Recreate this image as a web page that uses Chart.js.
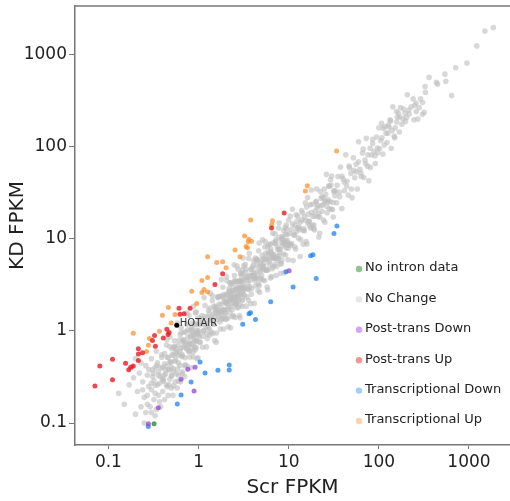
<!DOCTYPE html>
<html>
<head>
<meta charset="utf-8">
<script src="https://cdn.jsdelivr.net/npm/chart.js@4.4.0/dist/chart.umd.min.js"></script>
<style>
  html, body { margin: 0; padding: 0; background: #fff; }
</style>
</head>
<body>
<canvas id="fpkmChart" width="510" height="501"></canvas>
<script>
// axis ticks (decades only)
const tickValues = [0.1, 1, 10, 100, 1000];

// [Scr FPKM, KD FPKM] pairs
const noIntronData = [[0.321, 0.098]];

const postTransDown = [
  [10.1, 4.51], [0.759, 0.384], [0.915, 0.404], [0.64, 0.299], [0.891, 0.223],
  [0.358, 0.147], [0.278, 0.098]
];

const postTransUp = [
  [8.91, 19.1], [6.45, 13.1], [1.85, 4.17], [1.52, 3.19], [0.608, 1.76], [0.805, 1.76],
  [0.624, 1.52], [0.691, 1.54], [0.445, 1.04], [0.471, 0.963], [0.459, 0.916], [0.407, 0.839],
  [0.325, 0.894], [0.308, 0.788], [0.332, 0.682], [0.239, 0.581], [0.215, 0.562], [0.215, 0.642],
  [0.215, 0.478], [0.189, 0.417], [0.155, 0.446], [0.168, 0.38], [0.177, 0.403], [0.111, 0.492],
  [0.0803, 0.417], [0.111, 0.295], [0.0709, 0.252]
];

const transcriptionalDown = [
  [34.3, 13.8], [31.8, 11.4], [17.5, 6.53], [18.6, 6.73], [9.33, 4.38], [20.2, 3.7],
  [11.2, 2.99], [6.31, 2.07], [3.63, 1.54], [3.77, 1.57], [3.09, 1.18], [4.28, 1.33],
  [1.04, 0.46], [2.19, 0.427], [2.19, 0.377], [1.64, 0.375], [1.18, 0.349], [0.826, 0.279],
  [0.64, 0.202], [0.581, 0.161], [0.277, 0.0917]
];

const transcriptionalUp = [
  [34.0, 89.4], [16.1, 37.7], [15.3, 33.0], [6.61, 15.7], [6.48, 14.2], [3.79, 16.0],
  [3.24, 10.7], [3.61, 9.88], [3.87, 9.4], [3.56, 9.28], [3.36, 8.23], [3.49, 7.98],
  [2.54, 7.54], [2.88, 6.37], [1.85, 5.62], [1.59, 5.53], [1.26, 6.37], [2.02, 4.84],
  [1.26, 3.8], [1.09, 3.52], [0.841, 2.7], [1.15, 2.81], [1.09, 2.61], [1.26, 2.65],
  [0.955, 1.98], [0.463, 1.79], [0.397, 1.48], [0.549, 1.51], [0.496, 1.22], [0.189, 0.944],
  [0.285, 0.825], [0.368, 0.99], [0.278, 0.699], [0.265, 0.599]
];

const hotair = [[0.573, 1.15]];
const hotairName = 'HOTAIR';

const noChange = [
  // low tail
  [0.13, 0.21], [0.15, 0.16], [0.2, 0.125], [0.23, 0.15], [0.17, 0.26], [0.19, 0.31], [0.21, 0.22],
  [0.22, 0.35], [0.24, 0.28], [0.25, 0.19], [0.26, 0.42], [0.27, 0.33], [0.28, 0.25], [0.29, 0.15],
  [0.3, 0.5], [0.31, 0.38], [0.32, 0.29], [0.33, 0.21], [0.34, 0.6], [0.35, 0.45], [0.36, 0.33],
  [0.37, 0.17], [0.18, 0.4], [0.2, 0.5], [0.23, 0.45], [0.26, 0.13], [0.28, 0.38], [0.3, 0.23],
  [0.33, 0.12], [0.35, 0.26], [0.38, 0.4], [0.39, 0.55],
  [0.25, 0.1], [0.27, 0.16], [0.3, 0.13], [0.32, 0.18], [0.34, 0.14], [0.36, 0.2], [0.38, 0.15],
  [0.4, 0.22], [0.42, 0.18], [0.44, 0.26], [0.46, 0.2], [0.48, 0.3], [0.5, 0.24], [0.52, 0.2],
  [0.55, 0.28], [0.58, 0.24], [0.6, 0.33], [0.63, 0.28], [0.66, 0.36], [0.7, 0.32], [0.24, 0.23],
  [0.27, 0.2], [0.31, 0.32], [0.33, 0.4], [0.37, 0.27], [0.4, 0.3], [0.43, 0.34], [0.47, 0.26],
  [0.5, 0.4], [0.53, 0.36],
  // 0.3 - 1
  [0.4, 0.4], [0.41, 0.295], [0.42, 0.567], [0.43, 0.378], [0.44, 0.704], [0.45, 0.248], [0.46, 0.515],
  [0.47, 0.376], [0.48, 0.86], [0.49, 0.466], [0.5, 0.325], [0.51, 0.638], [0.52, 0.546], [0.53, 0.254],
  [0.54, 0.783], [0.55, 0.468], [0.56, 0.644], [0.57, 0.342], [0.58, 1.22], [0.59, 0.543], [0.6, 0.45],
  [0.61, 0.793], [0.62, 0.422], [0.63, 0.643], [0.64, 1.09], [0.65, 0.533], [0.66, 0.343], [0.67, 0.804],
  [0.68, 0.666], [0.69, 0.966], [0.7, 0.7], [0.71, 0.511], [0.72, 0.972], [0.73, 0.642], [0.74, 1.18],
  [0.75, 0.413], [0.76, 0.851], [0.77, 0.616], [0.78, 1.48], [0.79, 0.75], [0.8, 0.52], [0.81, 1.01],
  [0.82, 0.861], [0.83, 0.398], [0.84, 1.22], [0.85, 0.723], [0.86, 0.989], [0.87, 0.522], [0.88, 1.85],
  [0.89, 0.819], [0.9, 0.675], [0.91, 1.18], [0.92, 0.626], [0.93, 0.949], [0.94, 1.6], [0.95, 0.779],
  [0.96, 0.499], [0.97, 1.16], [0.98, 0.96], [0.99, 1.39],
  [0.415, 0.332], [0.445, 0.8], [0.475, 0.451], [0.505, 0.328], [0.535, 0.669], [0.565, 0.593],
  [0.595, 0.286], [0.625, 0.906], [0.655, 0.557], [0.685, 0.788], [0.715, 0.429], [0.745, 1.56],
  [0.775, 0.713], [0.805, 0.604], [0.835, 1.09], [0.865, 0.588], [0.895, 0.913], [0.925, 1.57],
  [0.955, 0.783], [0.985, 0.512],
  [0.3, 0.27], [0.315, 0.347], [0.33, 0.257], [0.345, 0.421], [0.36, 0.36], [0.375, 0.319],
  [0.39, 0.515], [0.405, 0.284], [0.42, 0.441], [0.435, 0.413], [0.45, 0.518], [0.465, 0.381],
  [0.48, 0.672], [0.495, 0.455], [0.51, 0.551], [0.525, 0.389], [0.54, 0.68], [0.555, 0.488],
  [0.57, 0.57], [0.585, 0.386], [0.6, 0.708], [0.62, 0.601], [0.64, 0.96], [0.66, 0.528],
  [0.68, 0.762], [0.7, 0.42], [0.72, 0.742], [0.74, 0.666], [0.76, 1.03], [0.78, 0.593],
  [0.8, 0.72], [0.82, 0.902], [0.84, 0.655], [0.86, 1.05], [0.88, 0.88], [0.9, 0.765],
  [0.92, 1.21], [0.94, 0.658], [0.96, 1.01], [0.98, 0.931],
  // 1 - 3.2
  [1.0, 1.0], [1.04, 0.749], [1.09, 1.47], [1.13, 0.994], [1.18, 1.89], [1.22, 0.671], [1.26, 1.41],
  [1.31, 1.05], [1.35, 2.57], [1.4, 1.33], [1.44, 0.936], [1.48, 1.85], [1.53, 1.61], [1.57, 0.754],
  [1.62, 2.35], [1.66, 1.41], [1.7, 1.96], [1.75, 1.05], [1.79, 3.6], [1.84, 1.69], [1.88, 1.41],
  [1.92, 2.5], [1.97, 1.34], [2.01, 2.05], [2.06, 3.5], [2.1, 1.72], [2.14, 1.11], [2.19, 2.63],
  [2.23, 2.19], [2.28, 3.19], [2.32, 2.32], [2.36, 1.7], [2.41, 3.25], [2.45, 2.16], [2.5, 4.0],
  [2.54, 1.4], [2.58, 2.89], [2.63, 2.1], [2.67, 5.07], [2.72, 2.58], [2.76, 1.79], [2.8, 3.5],
  [2.85, 2.99], [2.89, 1.39], [2.94, 4.26], [2.98, 2.53], [3.02, 3.47], [3.07, 1.84], [3.11, 6.2],
  [3.16, 2.91],
  [1.02, 0.867], [1.07, 1.23], [1.11, 0.666], [1.15, 2.3], [1.2, 1.1], [1.24, 0.93], [1.29, 1.68],
  [1.33, 0.904], [1.37, 1.4], [1.42, 2.41], [1.46, 1.2], [1.51, 0.785], [1.55, 1.86], [1.6, 1.57],
  [1.64, 2.3], [1.68, 1.68], [1.73, 1.25], [1.77, 2.39], [1.82, 1.6], [1.86, 2.98], [1.9, 1.05],
  [1.95, 2.18], [1.99, 1.59], [2.04, 3.88], [2.08, 1.98], [2.12, 1.38], [2.17, 2.71], [2.21, 2.32],
  [2.26, 1.08], [2.3, 3.34], [2.34, 1.99], [2.39, 2.75], [2.43, 1.46], [2.48, 5.21], [2.52, 2.32],
  [2.56, 1.92], [2.61, 3.39], [2.65, 1.8], [2.7, 2.75], [2.74, 4.66], [2.78, 2.28], [2.83, 1.47],
  [2.87, 3.44], [2.92, 2.86], [2.96, 4.14], [3.0, 3.0], [3.05, 2.2], [3.09, 4.17], [3.14, 2.76],
  [3.18, 5.09],
  [1.01, 0.909], [1.06, 1.17], [1.12, 0.874], [1.17, 1.43], [1.23, 1.23], [1.28, 1.09], [1.34, 1.77],
  [1.39, 0.973], [1.45, 1.52], [1.5, 1.43], [1.56, 1.79], [1.61, 1.32], [1.67, 2.34], [1.72, 1.58],
  [1.78, 1.92], [1.83, 1.35], [1.89, 2.38], [1.94, 1.71], [2.0, 2.0], [2.05, 1.35], [2.11, 2.49],
  [2.16, 2.1], [2.22, 3.33], [2.27, 1.82], [2.33, 2.61], [2.38, 1.43], [2.44, 2.51], [2.49, 2.24],
  [2.55, 3.44], [2.6, 1.98], [2.66, 2.39], [2.71, 2.98], [2.77, 2.16], [2.82, 3.44], [2.88, 2.88],
  [2.93, 2.49], [2.99, 3.95], [3.04, 2.13], [3.1, 3.26], [3.15, 2.99],
  [1.03, 0.762], [1.08, 1.36], [1.14, 1.0], [1.2, 1.2], [1.25, 0.825], [1.31, 1.55], [1.36, 1.32],
  [1.42, 2.13], [1.47, 1.18], [1.53, 1.71], [1.58, 0.948], [1.64, 1.69], [1.69, 1.52], [1.75, 2.36],
  [1.8, 1.37], [1.86, 1.67], [1.91, 2.1], [1.97, 1.54], [2.02, 2.46], [2.08, 2.08], [2.13, 1.81],
  [2.19, 2.89], [2.24, 1.57], [2.3, 2.42], [2.35, 2.23], [2.41, 2.77], [2.46, 2.02], [2.52, 3.53],
  [2.57, 2.36], [2.63, 2.84], [2.68, 1.98], [2.74, 3.45], [2.79, 2.46], [2.85, 2.85], [2.9, 1.91],
  [2.96, 3.49], [3.01, 2.92], [3.07, 4.61], [3.12, 2.5], [3.18, 3.56],
  // 3.2 - 10
  [3.2, 2.82], [3.3, 5.28], [3.38, 1.86], [3.47, 3.89], [3.56, 2.85], [3.65, 6.94], [3.74, 3.55],
  [3.84, 2.5], [3.94, 4.93], [4.04, 4.24], [4.14, 1.99], [4.25, 6.16], [4.36, 3.71], [4.47, 5.14],
  [4.59, 2.75], [4.7, 9.0], [4.83, 4.44], [4.95, 3.71], [5.08, 6.6], [5.21, 3.54], [5.34, 5.45],
  [5.48, 9.32], [5.62, 4.61], [5.77, 3.0], [5.92, 7.1], [6.07, 5.95], [6.23, 8.72], [6.39, 6.39],
  [6.55, 4.72], [6.72, 9.07], [6.9, 6.07], [7.07, 11.3], [7.26, 3.99], [7.44, 8.33], [7.64, 6.11],
  [7.83, 14.9], [8.04, 7.64], [8.24, 5.36], [8.46, 10.6], [8.68, 9.11], [8.9, 4.27], [9.13, 13.2],
  [9.37, 7.96], [9.61, 11.1], [9.86, 5.92],
  [3.25, 2.44], [3.34, 4.34], [3.43, 2.33], [3.52, 3.59], [3.6, 6.12], [3.7, 3.03], [3.79, 1.97],
  [3.89, 4.67], [3.99, 3.91], [4.09, 5.73], [4.2, 4.2], [4.3, 3.1], [4.42, 5.97], [4.53, 3.99],
  [4.64, 7.42], [4.77, 2.62], [4.89, 5.48], [5.01, 4.01], [5.14, 9.77], [5.28, 5.02], [5.41, 3.52],
  [5.55, 6.94], [5.7, 5.99], [5.84, 2.8], [6.0, 8.7], [6.15, 5.23], [6.31, 7.26], [6.47, 3.88],
  [6.64, 11.5], [6.81, 6.27], [6.98, 5.24], [7.17, 9.32], [7.35, 5.0], [7.54, 7.69], [7.73, 13.1],
  [7.93, 6.5], [8.14, 4.23], [8.35, 10.0], [8.57, 8.4], [8.79, 12.3], [9.02, 9.02], [9.25, 6.66],
  [9.49, 12.8], [9.74, 8.57], [9.98, 16.0],
  [3.28, 2.95], [3.45, 3.8], [3.62, 2.82], [3.8, 4.64], [3.98, 3.98], [4.18, 3.55], [4.38, 5.78],
  [4.6, 3.22], [4.82, 5.06], [5.06, 4.81], [5.3, 6.1], [5.56, 4.56], [5.83, 8.16], [6.12, 5.63],
  [6.42, 6.93], [6.73, 4.98], [7.06, 8.9], [7.4, 6.51], [7.76, 7.76], [8.14, 5.37], [8.54, 10.1],
  [8.95, 8.68], [9.39, 14.1], [9.85, 7.88],
  [3.36, 4.7], [3.53, 3.25], [3.71, 4.01], [3.89, 2.88], [4.08, 5.14], [4.28, 3.77], [4.49, 4.49],
  [4.71, 3.11], [4.94, 5.83], [5.18, 5.02], [5.43, 8.15], [5.7, 4.56], [5.97, 6.69], [6.27, 3.76],
  [6.57, 6.77], [6.89, 6.2], [7.23, 9.76], [7.58, 5.76], [7.95, 7.16], [8.34, 9.17], [8.75, 6.83],
  [9.17, 11.2], [9.62, 9.62], [10.1, 8.59],
  [3.32, 3.72], [3.58, 2.15], [3.85, 3.97], [4.13, 3.72], [4.44, 5.99], [4.77, 3.63], [5.12, 4.61],
  [5.5, 6.05], [5.9, 4.6], [6.34, 7.73], [6.8, 6.8], [7.3, 6.21], [7.85, 10.4], [8.42, 5.89],
  [9.05, 9.5], [9.7, 9.22],
  // 10 - 32
  [10.2, 11.4], [10.6, 8.48], [11.0, 20.9], [11.5, 10.9], [11.9, 7.74], [12.4, 15.5], [12.9, 13.5],
  [13.4, 6.43], [13.9, 20.2], [14.5, 12.3], [15.0, 17.3], [15.6, 9.36], [16.2, 28.0], [16.9, 15.5],
  [17.5, 13.1], [18.2, 23.7], [18.9, 12.9], [19.7, 20.1], [20.4, 34.7], [21.2, 17.4], [22.1, 11.5],
  [22.9, 27.5], [23.8, 23.3], [24.8, 34.7], [25.7, 25.7], [26.7, 19.2], [27.8, 37.5], [28.9, 25.4],
  [30.0, 48.0], [31.2, 17.2],
  [10.4, 17.7], [10.8, 8.86], [11.2, 5.82], [11.7, 14.0], [12.1, 11.9], [12.6, 17.6], [13.1, 13.1],
  [13.6, 9.79], [14.2, 19.2], [14.7, 12.9], [15.3, 24.5], [15.9, 8.75], [16.5, 18.5], [17.2, 13.8],
  [17.8, 33.8], [18.5, 17.6], [19.3, 12.5], [20.0, 25.0], [20.8, 21.8], [21.6, 10.4], [22.5, 32.6],
  [23.4, 19.9], [24.3, 27.9], [25.2, 15.1], [26.2, 50.0], [27.2, 25.0], [28.3, 21.2], [29.4, 38.2],
  [30.6, 20.8], [31.8, 32.4],
  [10.3, 8.76], [11.0, 14.5], [11.7, 8.19], [12.4, 13.0], [13.2, 12.5], [14.0, 16.1], [14.9, 12.2],
  [15.8, 22.1], [16.8, 15.5], [17.9, 19.3], [19.0, 14.1], [20.2, 25.5], [21.5, 18.9], [22.8, 22.8],
  [24.3, 16.0], [25.8, 30.4], [27.4, 26.6], [29.1, 43.7], [31.0, 24.8],
  [10.7, 12.6], [11.4, 11.1], [12.1, 18.2], [12.8, 10.2], [13.6, 15.2], [14.5, 8.7], [15.4, 15.9],
  [16.3, 14.7], [17.3, 23.4], [18.4, 14.0], [19.6, 17.6], [20.8, 22.9], [22.1, 17.2], [23.5, 28.7],
  [25.0, 25.0], [26.5, 22.5], [28.2, 37.2], [29.9, 20.9], [31.7, 33.3],
  // 32 - 100
  [33, 33], [34, 24.5], [35.2, 47.5], [36.4, 32], [37.6, 60.2], [38.8, 21.3], [40.1, 44.9],
  [41.5, 33.2], [42.9, 81.5], [44.3, 42.1], [45.8, 29.8], [47.3, 59.1], [48.9, 51.3], [50.5, 27.8],
  [52.2, 75.7], [54, 45.9], [55.8, 64.2], [57.6, 34.6], [59.5, 113], [61.5, 56.6], [63.6, 47.7],
  [65.7, 85.4], [67.9, 46.2], [70.2, 71.6], [72.5, 123], [74.9, 61.4], [77.4, 42.6], [80, 96],
  [82.7, 81], [85.5, 120], [88.3, 88.3], [91.3, 65.7], [94.3, 127], [97.5, 85.8], [100, 160],
  [32.5, 29.3], [34.5, 38], [36.7, 28.6], [39, 47.6], [41.4, 41.4], [44, 37.4], [46.7, 61.6],
  [49.6, 34.7], [52.7, 55.3], [56, 53.2], [59.5, 68.4], [63.2, 51.8], [67.1, 93.9], [71.3, 65.6],
  [75.7, 81.8], [80.4, 59.5], [85.4, 108], [90.7, 79.8], [96.4, 96.4],
  // 100 - 330
  [105, 116], [111, 83], [117, 164], [123, 111], [130, 163], [137, 96], [143, 271], [152, 160],
  [160, 208], [169, 144], [174, 265], [189, 256], [198, 188], [203, 207], [207, 366], [217, 226],
  [228, 271], [245, 196], [258, 297], [271, 199], [305, 225], [305, 301], [318, 236],
  [120, 140], [135, 190], [150, 125], [165, 230], [180, 175], [240, 330], [260, 240],
  [157, 240], [133, 195], [127, 172], [112, 158], [107, 179],
  [102, 95], [108, 125], [115, 104], [126, 140], [140, 150], [148, 130], [158, 185], [170, 210],
  [185, 200], [195, 230], [215, 250], [250, 280], [280, 265], [290, 330],
  // upper end
  [326, 449], [329, 389], [361, 564], [435, 498], [448, 477], [540, 612], [553, 511], [641, 358],
  [712, 719], [948, 808], [1220, 1240], [1500, 1800], [1860, 1960]
];

const toPoints = arr => arr.map(([x, y]) => ({ x, y }));

// legend drawn inside the plot area, like the original
const insideLegend = {
  id: 'insideLegend',
  afterDatasetsDraw(chart) {
    const { ctx } = chart;
    ctx.save();
    ctx.font = '13px "DejaVu Sans"';
    ctx.textBaseline = 'middle';
    ctx.textAlign = 'left';
    let row = 0;
    chart.data.datasets.forEach(ds => {
      if (!ds.legendColor) return;
      const y = 268 + row * 30.4;
      ctx.fillStyle = ds.legendColor;
      ctx.beginPath();
      ctx.arc(359, y + 1, 3.2, 0, Math.PI * 2);
      ctx.fill();
      ctx.fillStyle = '#222';
      ctx.fillText(ds.label, 365, y);
      row++;
    });
    ctx.restore();
  }
};

// HOTAIR name next to its point, plus the frame line on top
const extras = {
  id: 'extras',
  afterDatasetsDraw(chart) {
    const { ctx, chartArea } = chart;
    ctx.save();
    ctx.strokeStyle = '#777';
    ctx.lineWidth = 1.5;
    ctx.beginPath();
    ctx.moveTo(chartArea.left, chartArea.top);
    ctx.lineTo(chartArea.right, chartArea.top);
    ctx.stroke();

    const idx = chart.data.datasets.findIndex(d => d.label === hotairName);
    const pt = chart.getDatasetMeta(idx).data[0];
    ctx.font = '10px "DejaVu Sans"';
    ctx.fillStyle = '#333';
    ctx.textBaseline = 'middle';
    ctx.fillText(hotairName, pt.x + 3, pt.y - 2);
    ctx.restore();
  }
};

const font = size => ({ family: '"DejaVu Sans", Verdana, sans-serif', size });

new Chart(document.getElementById('fpkmChart'), {
  type: 'scatter',
  data: {
    datasets: [
      { label: 'No intron data', data: toPoints(noIntronData), backgroundColor: 'rgba(40,140,40,0.8)', legendColor: '#8fc48f', order: 1 },
      { label: 'No Change', data: toPoints(noChange), backgroundColor: 'rgba(190,190,190,0.6)', legendColor: '#e6e6e6', order: 5, pointRadius: 2.8 },
      { label: 'Post-trans Down', data: toPoints(postTransDown), backgroundColor: 'rgba(150,70,210,0.75)', legendColor: '#d3a6f2', order: 1 },
      { label: 'Post-trans Up', data: toPoints(postTransUp), backgroundColor: 'rgba(235,25,35,0.8)', legendColor: '#f79494', order: 1 },
      { label: 'Transcriptional Down', data: toPoints(transcriptionalDown), backgroundColor: 'rgba(30,130,240,0.75)', legendColor: '#a3cff7', order: 1 },
      { label: 'Transcriptional Up', data: toPoints(transcriptionalUp), backgroundColor: 'rgba(250,140,40,0.7)', legendColor: '#fcd3ad', order: 1 },
      { label: hotairName, data: toPoints(hotair), backgroundColor: '#000', order: 0 }
    ]
  },
  options: {
    responsive: false,
    animation: false,
    events: [],
    layout: { autoPadding: false, padding: { top: 6, right: 0, bottom: 0, left: 0 } },
    elements: { point: { radius: 2.5, borderWidth: 0, hoverRadius: 2.5 } },
    plugins: {
      legend: { display: false },
      tooltip: { enabled: false }
    },
    scales: {
      x: {
        type: 'logarithmic',
        min: 0.0426,
        max: 2850,
        afterBuildTicks: s => { s.ticks = tickValues.map(v => ({ value: v })); },
        afterFit: s => { s.height = 56; s.paddingLeft = 0; s.paddingRight = 0; },
        grid: { drawOnChartArea: false, tickLength: 4, color: '#777' },
        border: { color: '#777', width: 1.5 },
        ticks: { color: '#222', font: font(17), padding: 3, autoSkip: false, maxRotation: 0, callback: v => String(v) },
        title: { display: true, text: 'Scr FPKM', color: '#222', font: font(20), padding: { top: 0, bottom: 1 } }
      },
      y: {
        type: 'logarithmic',
        min: 0.0578,
        max: 3360,
        afterBuildTicks: s => { s.ticks = tickValues.map(v => ({ value: v })); },
        afterFit: s => { s.width = 75; s.paddingTop = 0; s.paddingBottom = 0; },
        grid: { drawOnChartArea: false, tickLength: 6, color: '#777' },
        border: { color: '#777', width: 1.5 },
        ticks: { color: '#222', font: font(17), padding: 2, autoSkip: false, callback: v => String(v) },
        title: { display: true, text: 'KD FPKM', color: '#222', font: font(20), padding: { top: 6, bottom: 0 } }
      }
    }
  },
  plugins: [insideLegend, extras]
});
</script>
</body>
</html>
